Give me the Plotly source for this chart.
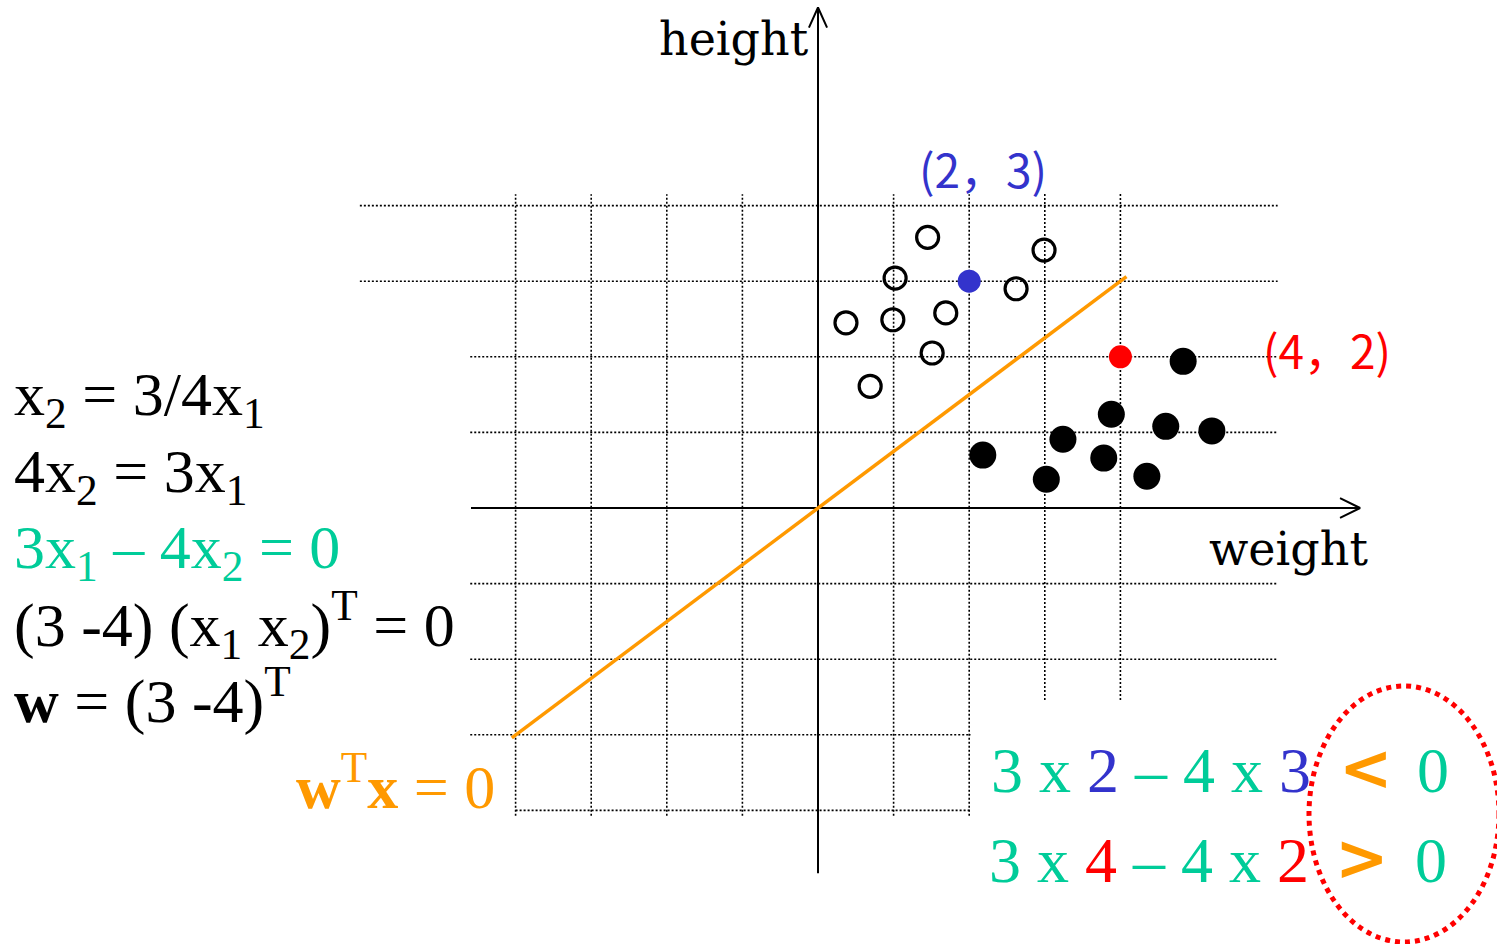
import plotly.graph_objects as go

# ---------------- data ----------------
open_x = [1.45, 1.02, 2.99, 2.62, 1.69, 0.37, 0.99, 1.51, 0.69]
open_y = [3.58, 3.04, 3.41, 2.90, 2.58, 2.45, 2.49, 2.05, 1.61]
filled_x = [4.83, 3.88, 3.24, 4.60, 5.21, 2.18, 3.78, 3.02, 4.35]
filled_y = [1.94, 1.24, 0.91, 1.08, 1.02, 0.70, 0.66, 0.38, 0.42]
blue_pt = (2, 3)
red_pt = (4, 2)
line_x = [-4.05, 4.08]
line_y = [-3.04, 3.06]

# grid segments: (value, start, end)
hgrid = [(4, -6.06, 6.08), (3, -6.06, 6.08), (2, -4.6, 6.08), (1, -4.6, 6.08),
         (-1, -4.6, 6.08), (-2, -4.6, 6.08), (-3, -4.6, 2.02), (-4, -4, 2.02)]
vgrid = [(-4, -4.07, 4.15), (-3, -4.07, 4.15), (-2, -4.07, 4.15), (-1, -4.07, 4.15),
         (1, -4.07, 4.15), (2, -4.07, 4.15), (3, -2.54, 4.17), (4, -2.54, 4.17)]
xaxis_ext = (-4.59, 7.17)
yaxis_ext = (-4.83, 6.62)

# ---------------- layout helpers ----------------
W, H = 1497, 944
OX, OY, U = 818, 508, 75.6
def X(px):
    return (px - OX) / U
def Y(py):
    return (OY - py) / U

SERIF = "Liberation Serif"
GREEN = "#00cc99"
BLUE = "#3333cc"
RED = "#ff0000"
ORANGE = "#ff9900"

fig = go.Figure()

# grid
gx, gy = [], []
for v, a, b in hgrid:
    gx += [a, b, None]; gy += [v, v, None]
for v, a, b in vgrid:
    gx += [v, v, None]; gy += [a, b, None]
fig.add_trace(go.Scatter(x=gx, y=gy, mode="lines",
                         line=dict(color="black", width=1.6, dash="2px,2px"),
                         hoverinfo="skip", showlegend=False))

# axes with arrowheads
ax_x = [xaxis_ext[0], xaxis_ext[1], None,
        xaxis_ext[1] - 0.265, xaxis_ext[1], xaxis_ext[1] - 0.265, None,
        0, 0, None,
        -0.12, 0, 0.12]
ax_y = [0, 0, None,
        0.13, 0, -0.13, None,
        yaxis_ext[0], yaxis_ext[1], None,
        yaxis_ext[1] - 0.265, yaxis_ext[1], yaxis_ext[1] - 0.265]
fig.add_trace(go.Scatter(x=ax_x, y=ax_y, mode="lines",
                         line=dict(color="black", width=2),
                         hoverinfo="skip", showlegend=False))

# decision line
fig.add_trace(go.Scatter(x=line_x, y=line_y, mode="lines",
                         line=dict(color=ORANGE, width=3.5),
                         showlegend=False))

# points
fig.add_trace(go.Scatter(x=open_x, y=open_y, mode="markers",
                         marker=dict(symbol="circle-open", size=22, color="black",
                                     line=dict(color="black", width=3.2)),
                         showlegend=False))
fig.add_trace(go.Scatter(x=filled_x, y=filled_y, mode="markers",
                         marker=dict(symbol="circle", size=27, color="black"),
                         showlegend=False))
fig.add_trace(go.Scatter(x=[blue_pt[0]], y=[blue_pt[1]], mode="markers",
                         marker=dict(symbol="circle", size=23, color=BLUE),
                         showlegend=False))
fig.add_trace(go.Scatter(x=[red_pt[0]], y=[red_pt[1]], mode="markers",
                         marker=dict(symbol="circle", size=23, color=RED),
                         showlegend=False))

# dotted ellipse
fig.add_shape(type="circle", xref="x", yref="y",
              x0=X(1309), x1=X(1499), y0=Y(942), y1=Y(686),
              line=dict(color=RED, width=5, dash="dot"))

def ann(text, px, py, size, color="black", xanchor="left", family=SERIF):
    fig.add_annotation(x=X(px), y=Y(py), xref="x", yref="y", text=text,
                       showarrow=False, xanchor=xanchor, yanchor="middle",
                       font=dict(family=family, size=size, color=color))

# axis labels
ann("height", 734, 39, 46, xanchor="center", family="DejaVu Serif")
ann("weight", 1288, 549, 46, xanchor="center", family="DejaVu Serif")

# point labels
ann("(2，3)", 983, 168, 46, color=BLUE, xanchor="center", family="Noto Sans CJK SC")
ann("(4，2)", 1327, 349, 46, color=RED, xanchor="center", family="Noto Sans CJK SC")

# left equations
S = 62
ann("x<sub>2</sub> = 3/4x<sub>1</sub>", 12, 398.6, S)
ann("4x<sub>2</sub> = 3x<sub>1</sub>", 12, 475.6, S)
ann("3x<sub>1</sub> – 4x<sub>2</sub> = 0", 12, 551.6, S, color=GREEN)
ann("(3 -4) (x<sub>1</sub> x<sub>2</sub>)<sup>T</sup> = 0", 12, 624, S)
ann("<b>w</b> = (3 -4)<sup>T</sup>", 12, 696.4, S)
ann("<b>w</b><sup>T</sup><b>x</b> = 0", 497, 782, S, color=ORANGE, xanchor="right")

# bottom-right inequalities
S2 = 64
ann("3 x <span style='color:%s'>2</span> – 4 x <span style='color:%s'>3</span>" % (BLUE, BLUE),
    989, 770, S2, color=GREEN)
ann("3 x <span style='color:%s'>4</span> – 4 x <span style='color:%s'>2</span>" % (RED, RED),
    987, 860, S2, color=GREEN)
ann("<b>&lt;</b>", 1366, 768, 64, color=ORANGE, xanchor="center", family="DejaVu Sans")
ann("<b>&gt;</b>", 1362, 858, 64, color=ORANGE, xanchor="center", family="DejaVu Sans")
ann("0", 1433, 770, S2, color=GREEN, xanchor="center")
ann("0", 1431, 860, S2, color=GREEN, xanchor="center")

fig.update_layout(
    width=W, height=H,
    margin=dict(l=0, r=0, t=0, b=0),
    paper_bgcolor="white", plot_bgcolor="white",
    xaxis=dict(range=[X(0), X(W)], visible=False, fixedrange=True),
    yaxis=dict(range=[Y(H), Y(0)], visible=False, fixedrange=True),
    showlegend=False,
)

fig.write_html("out.html", config={"displayModeBar": False},
               post_script="document.body.style.margin='0';")
